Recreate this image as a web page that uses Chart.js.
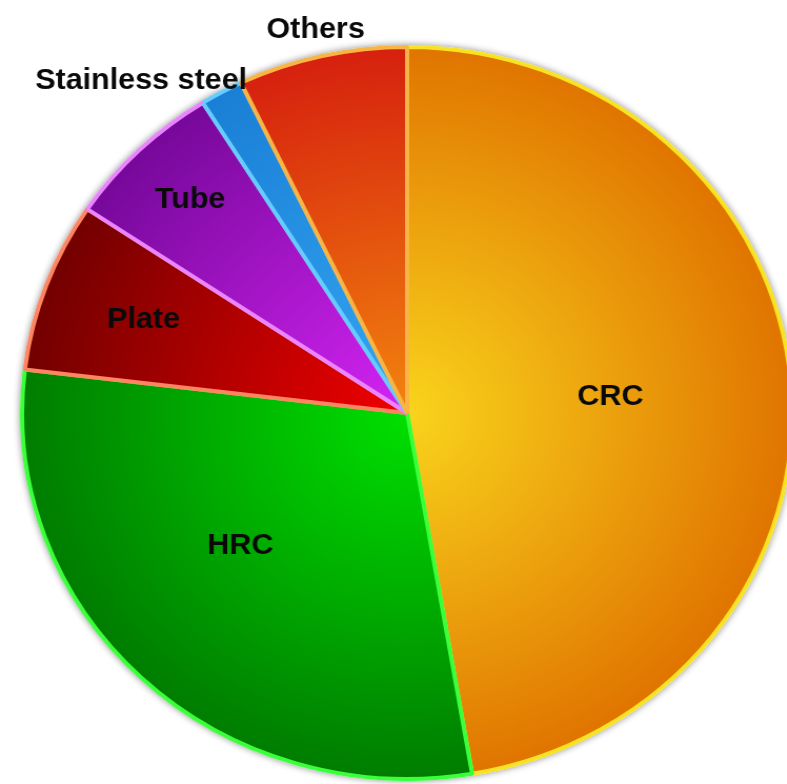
<!DOCTYPE html>
<html>
<head>
<meta charset="utf-8">
<script src="https://cdn.jsdelivr.net/npm/chart.js@4.4.1/dist/chart.umd.min.js"></script>
<style>
  html, body { margin: 0; padding: 0; background: #fff; overflow: hidden; }
  #wrap { width: 770px; height: 784px; transform: scaleX(1.052); transform-origin: 0 0; }
</style>
</head>
<body>
<div id="wrap"><canvas id="pieChart" width="770" height="784"></canvas></div>
<script>
// Ma'lumotlar
const categories = ['CRC', 'HRC', 'Plate', 'Tube', 'Stainless steel', 'Others'];
const shares = [47.3, 29.6, 7.5, 6.7, 1.8, 7.1];

// Ranglar (ichki / tashqi gradient, chegara)
const innerColors = ['#f9d41c', '#00e000', '#f20000', '#d424f4', '#34a6f2', '#f2840e'];
const outerColors = ['#e07400', '#007c00', '#720000', '#76089a', '#1a7fd6', '#d6200e'];
const borderColors = ['#f8e224', '#3cff3c', '#ff8462', '#ea84ff', '#66ccff', '#f8b444'];

// Yorliqlar joylashuvi (radius ulushi, burchak siljishi)
const labelRadius = [0.53, 0.565, 0.73, 0.81, 1.14, 1.074];
const labelShift = [0, 6.5, 0, 0, -8.5, 0];

// Har bir bo'lak uchun radial gradient
function sliceGradient(context) {
    const i = context.dataIndex;
    const chart = context.chart;
    const a = chart.chartArea;
    if (!a || i === undefined) return innerColors[i || 0];
    const cx = (a.left + a.right) / 2;
    const cy = (a.top + a.bottom) / 2;
    const r = Math.min(a.right - a.left, a.bottom - a.top) / 2;
    const g = chart.ctx.createRadialGradient(cx, cy, 0, cx, cy, r);
    g.addColorStop(0, innerColors[i]);
    g.addColorStop(1, outerColors[i]);
    return g;
}

// Soya
const shadowPlugin = {
    id: 'pieShadow',
    beforeDatasetsDraw(chart) {
        const arc = chart.getDatasetMeta(0).data[0];
        if (!arc) return;
        const ctx = chart.ctx;
        ctx.save();
        ctx.shadowColor = 'rgba(0,0,0,0.45)';
        ctx.shadowBlur = 7;
        ctx.fillStyle = '#ffffff';
        ctx.beginPath();
        ctx.arc(arc.x, arc.y, arc.outerRadius + 2, 0, Math.PI * 2);
        ctx.fill();
        ctx.restore();
    }
};

// Yorliqlar
const labelPlugin = {
    id: 'sliceLabels',
    afterDatasetsDraw(chart) {
        const ctx = chart.ctx;
        const arcs = chart.getDatasetMeta(0).data;
        ctx.save();
        ctx.font = 'bold 29px "Liberation Sans", Arial, sans-serif';
        ctx.fillStyle = '#0a0a0a';
        ctx.textAlign = 'center';
        ctx.textBaseline = 'middle';
        arcs.forEach((arc, i) => {
            const mid = (arc.startAngle + arc.endAngle) / 2 + labelShift[i] * Math.PI / 180;
            const r = arc.outerRadius * labelRadius[i];
            ctx.fillText(categories[i], arc.x + Math.cos(mid) * r, arc.y + Math.sin(mid) * r);
        });
        ctx.restore();
    }
};

new Chart(document.getElementById('pieChart'), {
    type: 'pie',
    data: {
        labels: categories,
        datasets: [{
            data: shares,
            backgroundColor: sliceGradient,
            borderColor: borderColors,
            borderWidth: 4
        }]
    },
    options: {
        responsive: false,
        animation: false,
        layout: { padding: { left: 19, right: 15, top: 45, bottom: 3 } },
        plugins: {
            legend: { display: false },
            tooltip: { enabled: false }
        }
    },
    plugins: [shadowPlugin, labelPlugin]
});
</script>
</body>
</html>
